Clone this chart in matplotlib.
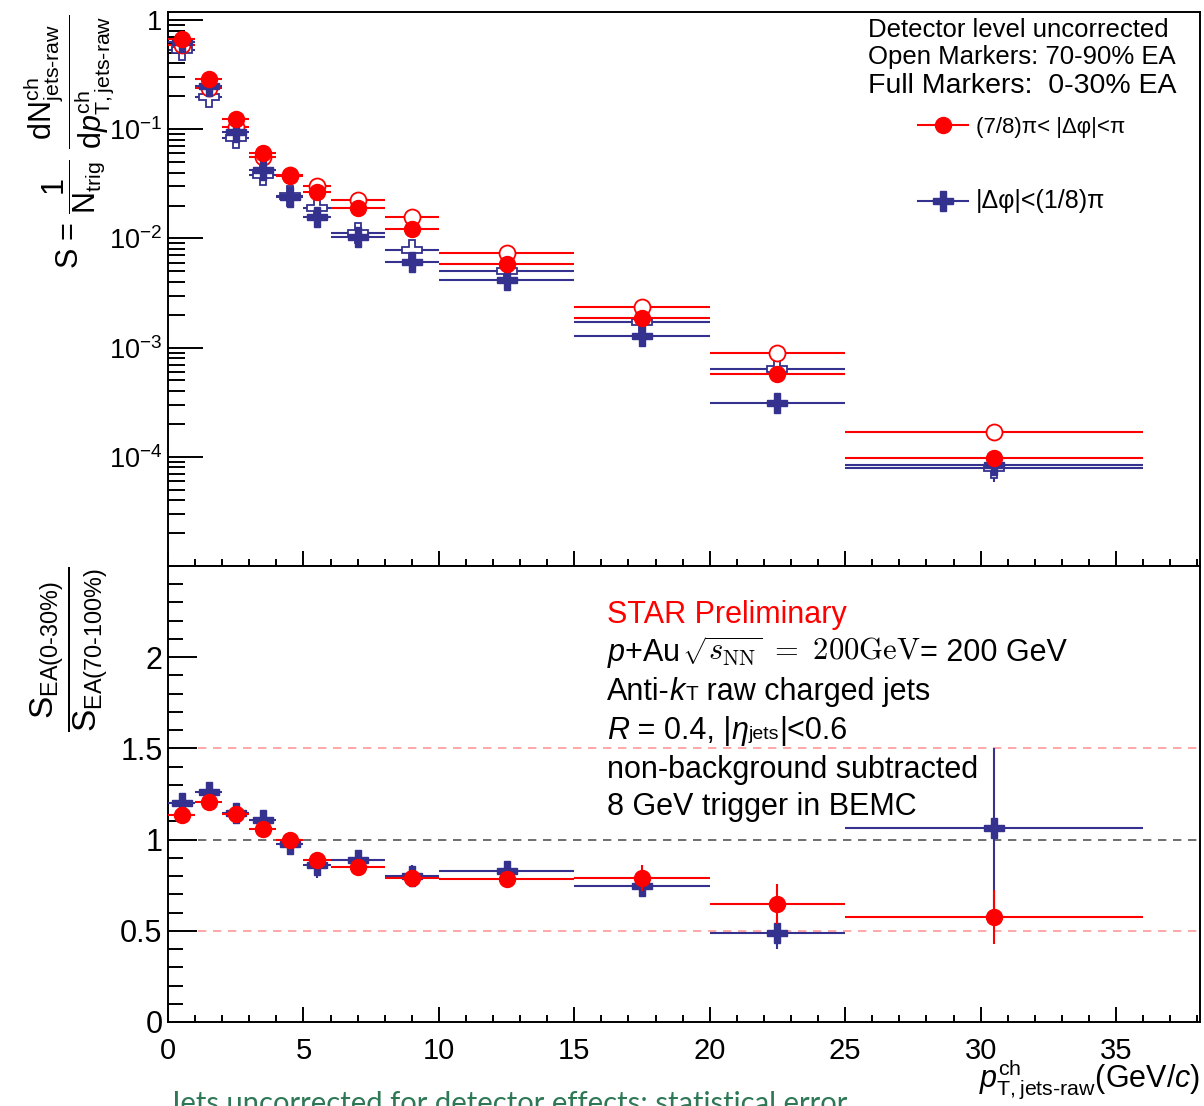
import matplotlib
matplotlib.use("Agg")
import matplotlib.pyplot as plt
from matplotlib.lines import Line2D
from matplotlib.ticker import FixedLocator, MultipleLocator, LogLocator, FuncFormatter, NullFormatter
import numpy as np

plt.rcParams['font.family'] = ['Liberation Sans', 'DejaVu Sans']
plt.rcParams['mathtext.fontset'] = 'custom'
plt.rcParams['mathtext.rm'] = 'Liberation Sans'
plt.rcParams['mathtext.it'] = 'Liberation Sans:italic'
plt.rcParams['mathtext.bf'] = 'Liberation Sans:bold'
plt.rcParams['mathtext.sf'] = 'Liberation Sans'

#====Data
bin_lo = [0, 1, 2, 3, 4, 5, 6, 8, 10, 15, 20, 25]
bin_hi = [1, 2, 3, 4, 5, 6, 8, 10, 15, 20, 25, 36]
pt = [0.5, 1.5, 2.5, 3.5, 4.5, 5.5, 7, 9, 12.5, 17.5, 22.5, 30.5]

# away side (7/8)pi<|dphi|<pi
red_full_S = [0.67, 0.29, 0.123, 0.060, 0.037, 0.0266, 0.019, 0.0122, 0.0058, 0.00187, 0.00057, 0.0000977]
red_full_err = [0.01, 0.005, 0.002, 0.001, 0.0007, 0.0005, 0.0004, 0.0003, 0.0001, 0.00006, 0.00003, 0.000008]
red_open_S = [0.59, 0.24, 0.105, 0.0556, 0.038, 0.030, 0.0224, 0.0157, 0.0074, 0.00235, 0.00089, 0.00017]
red_open_err = [0.02, 0.008, 0.003, 0.0015, 0.001, 0.0008, 0.0006, 0.0004, 0.00015, 0.00008, 0.00005, 0.00002]
# near side |dphi|<(1/8)pi
blue_full_S = [0.63, 0.25, 0.094, 0.042, 0.024, 0.0157, 0.0102, 0.0061, 0.0042, 0.00128, 0.00031, 0.000084]
blue_full_err = [0.01, 0.004, 0.0015, 0.0008, 0.0005, 0.0004, 0.0003, 0.0002, 0.0001, 0.00005, 0.00002, 0.000015]
blue_open_S = [0.53, 0.197, 0.083, 0.038, 0.0245, 0.019, 0.0113, 0.0078, 0.0050, 0.00171, 0.00064, 0.000079]
blue_open_err = [0.02, 0.007, 0.003, 0.0013, 0.001, 0.0007, 0.0005, 0.0003, 0.00015, 0.00007, 0.00004, 0.00002]

# ratio 0-30% / 70-100%
red_ratio = [1.135, 1.205, 1.14, 1.058, 0.998, 0.888, 0.85, 0.79, 0.784, 0.79, 0.647, 0.576]
red_ratio_err = [0.02, 0.02, 0.02, 0.02, 0.03, 0.03, 0.02, 0.03, 0.03, 0.07, 0.11, 0.15]
blue_ratio = [1.20, 1.26, 1.145, 1.11, 0.976, 0.86, 0.888, 0.80, 0.828, 0.745, 0.488, 1.063]
blue_ratio_err = [0.03, 0.03, 0.03, 0.03, 0.04, 0.07, 0.04, 0.06, 0.04, 0.06, 0.09, 0.44]

ref_lines = [0.5, 1.0, 1.5]
ref_colors = ['#ff9a9a', '#555555', '#ff9a9a']

RED = '#ff0000'
BLUE = '#34318f'

#====Helpers
def tidy(ax, maj, mino):
     ax.tick_params(which='both', direction='in', top=False, right=False, width=1.4)
     ax.tick_params(axis='y', which='major', length=maj, pad=4)
     ax.tick_params(axis='y', which='minor', length=mino)
     ax.tick_params(axis='x', which='major', length=10.5, pad=11)
     ax.tick_params(axis='x', which='minor', length=5)
     for s in ax.spines.values():
          s.set_linewidth(1.4)

#write one line of text made of pieces with different styles
def write_line(ax, x, y, parts, size):
     r = ax.figure.canvas.get_renderer()
     for s, kw in parts:
          opts = dict(fontsize=size)
          opts.update(kw)
          t = ax.text(x, y, s, transform=ax.transAxes, va='baseline', ha='left', **opts)
          bb = t.get_window_extent(r)
          x = ax.transAxes.inverted().transform((bb.x1, bb.y0))[0]

#====Figure
fig = plt.figure(figsize=(12.04, 11.06), dpi=100)
ax1 = fig.add_axes([0.13953, 0.48825, 0.85714, 0.50090])
ax2 = fig.add_axes([0.13953, 0.07595, 0.85714, 0.41230])

x = np.array(pt)
xerr = [x - np.array(bin_lo), np.array(bin_hi) - x]

common = dict(ls='none', elinewidth=1.5, capsize=0)
ax1.errorbar(x, blue_open_S, yerr=blue_open_err, xerr=xerr, color=BLUE, marker='P', ms=15,
             mfc='white', mec=BLUE, mew=1.3, zorder=2, **common)
ax1.errorbar(x, red_open_S, yerr=red_open_err, xerr=xerr, color=RED, marker='o', ms=11.5,
             mfc='white', mec=RED, mew=1.3, zorder=3, **common)
ax1.errorbar(x, blue_full_S, yerr=blue_full_err, xerr=xerr, color=BLUE, marker='P', ms=15,
             mec=BLUE, zorder=4, **common)
ax1.errorbar(x, red_full_S, yerr=red_full_err, xerr=xerr, color=RED, marker='o', ms=11.5,
             mec=RED, zorder=5, **common)

ax1.set_yscale('log')
ax1.set_xlim(0, 38.1)
ax1.set_ylim(1.0e-5, 1.184)
ax1.yaxis.set_major_locator(FixedLocator([1e-4, 1e-3, 1e-2, 1e-1, 1]))
ax1.yaxis.set_minor_locator(LogLocator(base=10, subs=np.arange(2, 10), numticks=20))
ax1.yaxis.set_major_formatter(FuncFormatter(
     lambda v, p: '1' if abs(v - 1) < 1e-9 else r'$10^{%d}$' % int(round(np.log10(v)))))
ax1.yaxis.set_minor_formatter(NullFormatter())
ax1.xaxis.set_major_locator(MultipleLocator(5))
ax1.xaxis.set_minor_locator(MultipleLocator(1))
ax1.xaxis.set_major_formatter(NullFormatter())
tidy(ax1, 25, 12.5)
ax1.tick_params(axis='y', labelsize=19.5)

ax1.set_ylabel(r"S = $\dfrac{1}{\mathrm{N}_{\mathrm{trig}}}\ \dfrac{\mathrm{dN}^{\mathrm{ch}}_{\mathrm{jets‐raw}}}"
               r"{\mathrm{d}p^{\mathrm{ch}}_{\mathrm{T,jets‐raw}}}$", fontsize=22, loc='top')
ax1.yaxis.set_label_coords(-0.05, 0.995)

ax1.text(0.678, 0.9675, "Detector level uncorrected", transform=ax1.transAxes, fontsize=18.5, va='center')
ax1.text(0.678, 0.9188, "Open Markers: 70-90% EA", transform=ax1.transAxes, fontsize=18.5, va='center')
ax1.text(0.678, 0.8664, "Full Markers:  0-30% EA", transform=ax1.transAxes, fontsize=20.5, va='center')

h_red = Line2D([], [], color=RED, lw=1.5, marker='o', ms=11.5)
h_blue = Line2D([], [], color=BLUE, lw=1.5, marker='P', ms=15)
leg = ax1.legend([h_red, h_blue], ["(7/8)π< |Δφ|<π", "|Δφ|<(1/8)π"], loc='upper left',
                 bbox_to_anchor=(0.7267, 0.810), frameon=False, fontsize=16, handlelength=2.25,
                 handletextpad=0.35, labelspacing=2.3, borderpad=0, borderaxespad=0)
leg.get_texts()[1].set_fontsize(18)

# ratio panel
for yv, c in zip(ref_lines, ref_colors):
     ax2.axhline(yv, color=c, ls=(0, (5, 4)), lw=1.2, zorder=1)
ax2.errorbar(x, blue_ratio, yerr=blue_ratio_err, xerr=xerr, color=BLUE, marker='P', ms=15,
             mec=BLUE, zorder=3, **common)
ax2.errorbar(x, red_ratio, yerr=red_ratio_err, xerr=xerr, color=RED, marker='o', ms=11.5,
             mec=RED, zorder=4, **common)
ax2.set_xlim(0, 38.1)
ax2.set_ylim(0, 2.5)
ax2.yaxis.set_major_locator(FixedLocator([0, 0.5, 1, 1.5, 2]))
ax2.yaxis.set_minor_locator(MultipleLocator(0.1))
ax2.yaxis.set_major_formatter(FuncFormatter(lambda v, p: ('%g' % v)))
ax2.xaxis.set_major_locator(MultipleLocator(5))
ax2.xaxis.set_minor_locator(MultipleLocator(1))
tidy(ax2, 21, 10.8)
ax2.tick_params(axis='y', labelsize=22)
ax2.tick_params(axis='x', labelsize=21)

ax2.set_ylabel(r"$\dfrac{\mathrm{S}_{\mathrm{EA(0‐30\%)}}}{\mathrm{S}_{\mathrm{EA(70‐100\%)}}}$",
               fontsize=24, loc='top')
ax2.yaxis.set_label_coords(-0.056, 1.0)
ax2.set_xlabel(r"$p^{\mathrm{ch}}_{\mathrm{T,jets‐raw}}$(GeV/$c$)", fontsize=22, loc='right')
ax2.xaxis.set_label_coords(1.0, -0.078)

write_line(ax2, 0.4254, 0.875, [("STAR Preliminary", dict(color=RED))], 22)
write_line(ax2, 0.4254, 0.792, [(r"$p$+Au ", {}),
                                (r"$\sqrt{s_{\mathrm{NN}}}\ =\ 200\mathrm{GeV}$", dict(math_fontfamily='cm')),
                                ("= 200 GeV", {})], 22)
write_line(ax2, 0.4254, 0.706, [("Anti-", {}), ("k", dict(style='italic')), ("T", dict(fontsize=15)),
                                (" raw charged jets", {})], 22)
write_line(ax2, 0.4254, 0.621, [("R", dict(style='italic')), (" = 0.4, |", {}), ("η", dict(style='italic')),
                                ("jets", dict(fontsize=14)), ("|<0.6", {})], 22)
write_line(ax2, 0.4254, 0.535, [("non-background subtracted", {})], 22)
write_line(ax2, 0.4254, 0.454, [("8 GeV trigger in BEMC", {})], 22)

fig.text(0.1395, -0.0045, "Jets uncorrected for detector effects; statistical error",
         color='#2e7856', fontsize=21, family='Lato', va='baseline')

plt.savefig("out.png", dpi=100)
plt.close(fig)
